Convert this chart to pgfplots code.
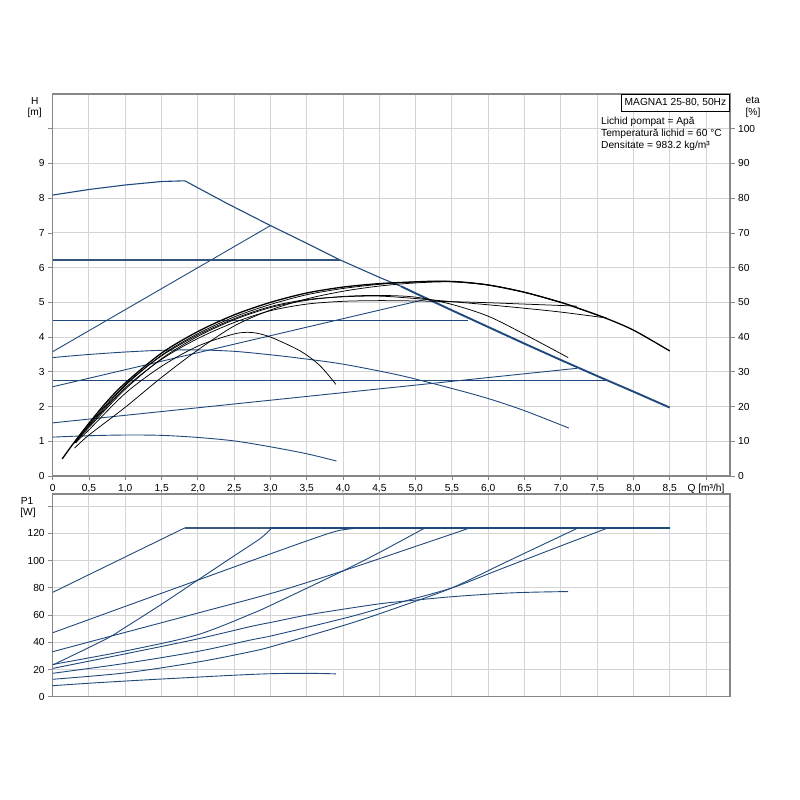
\documentclass[border=0pt]{standalone}
\usepackage{fontspec}
\setmainfont{Liberation Sans}
\usepackage{pgfplots}
\pgfplotsset{compat=1.18}
\definecolor{cblue}{RGB}{31,73,125}
\definecolor{cgrid}{RGB}{212,212,212}
\definecolor{caxis}{RGB}{135,135,135}
\newcommand{\fs}{\fontsize{10.2pt}{12pt}\selectfont}
\pgfplotsset{
  base/.style={
    scale only axis, width=677.3pt, xmin=0, xmax=9.33, anchor=south west,
    axis line style={draw=caxis, line width=1.2pt},
    tick style={draw=caxis, line width=0.8pt},
    major tick length=4.5pt, tick align=outside,
    major grid style={draw=cgrid, line width=1pt},
    xtick={0,0.5,1,1.5,2,2.5,3,3.5,4,4.5,5,5.5,6,6.5,7,7.5,8,8.5,9},
    ticklabel style={font=\fs},
    /pgf/number format/assume math mode=true,
  },
  bl/.style={cblue, line width=0.9pt},
  bk/.style={black, line width=0.75pt},
}
\begin{document}
\fs
\begin{tikzpicture}
\path[use as bounding box, fill=white] (0pt,0pt) rectangle (800pt,800pt);

% ---------- top: H ----------
\begin{axis}[base, at={(52.7pt,324pt)}, height=382pt,
  ymin=0, ymax=11, ytick={0,1,2,3,4,5,6,7,8,9,10},
  yticklabels={0,1,2,3,4,5,6,7,8,9,{}},
  xticklabels={0,{0,5},{1,0},{1,5},{2,0},{2,5},{3,0},{3,5},{4,0},{4,5},{5,0},{5,5},{6,0},{6,5},{7,0},{7,5},{8,0},{8,5},{Q [m³/h]}},
  xtick pos=left, ytick pos=left, grid=major]
% max curve
\addplot[bl, line width=1.1pt] coordinates {(0,8.09) (0.5,8.25) (1.0,8.38) (1.5,8.48) (1.82,8.5) (2.4,7.85) (3.0,7.21) (3.5,6.7) (3.96,6.22) (4.5,5.72) (4.8,5.46)};
\addplot[bl, line width=1.9pt] coordinates {(4.8,5.46) (5.0,5.26) (5.5,4.77) (6.0,4.29) (6.5,3.81) (7.0,3.34) (7.5,2.88) (8.0,2.43) (8.5,1.97)};
% proportional / constant pressure
\addplot[bl] coordinates {(0,3.58) (3.0,7.21)};
\addplot[cblue!80!gray, line width=1.3pt] coordinates {(0,6.22) (3.96,6.22)};
\addplot[bl] coordinates {(0,2.57) (5.06,5.05) (5.15,5.08)};
\addplot[bl] coordinates {(0,4.49) (5.72,4.49)};
\addplot[bl] coordinates {(0,2.75) (7.63,2.75)};
\addplot[bl] coordinates {(0,1.53) (7.22,3.10)};
% constant curves
\addplot[bl, smooth] coordinates {(0,3.41) (0.5,3.5) (1.0,3.57) (1.5,3.62) (2.0,3.63) (2.5,3.59) (3.0,3.49) (3.41,3.39) (4.0,3.22) (4.78,2.9) (5.5,2.52) (6.0,2.23) (6.5,1.88) (7.11,1.38)};
\addplot[bl, smooth] coordinates {(0,1.12) (0.5,1.16) (1.0,1.18) (1.5,1.17) (2.0,1.11) (2.5,1.01) (3.0,0.84) (3.5,0.64) (3.91,0.43)};
\end{axis}

% ---------- top: eta ----------
\begin{axis}[base, at={(52.7pt,324pt)}, height=382pt,
  ymin=0, ymax=110, ytick={0,10,20,30,40,50,60,70,80,90,100},
  hide x axis, axis y line*=right, ytick pos=right,
  yticklabel style={anchor=west}]
\addplot[bk, smooth] coordinates {(0.30,8.0) (0.5,11.8) (1.0,19.8) (1.5,28.4) (2.0,36.3) (2.5,43.2) (3.0,47.8) (3.5,51.0) (4.0,53.2) (4.5,54.7) (5.0,55.6) (5.5,55.9) (6.0,55.0) (6.5,52.9) (7.0,50.0) (7.2,48.6) (7.6,45.6)};
\addplot[bk, smooth] coordinates {(0.30,9.4) (0.5,13.3) (1.0,23.8) (1.5,31.6) (2.0,37.4) (2.5,40.9) (2.75,41.3) (3.0,40.0) (3.41,36.0) (3.68,31.8) (3.9,26.4)};
\addplot[bk, smooth] coordinates {(0.30,9.6) (0.5,14.0) (1.0,25.0) (1.5,33.8) (2.0,40.2) (2.5,45.0) (3.0,48.5) (3.5,50.6) (4.0,51.7) (4.5,52.0) (5.0,51.5) (5.5,49.4) (6.0,46.0) (6.5,40.8) (7.1,34.1)};
\addplot[bk, smooth] coordinates {(0.32,10.0) (0.5,14.4) (1.0,25.4) (1.5,33.6) (2.0,39.6) (2.5,44.2) (3.0,47.6) (3.5,49.5) (4.0,50.3) (4.5,50.5) (5.0,50.4) (5.5,50.2) (6.0,49.9) (6.5,49.5) (7.0,49.1) (7.22,48.9)};
\addplot[bk, smooth] coordinates {(0.32,10.2) (0.5,15.0) (1.0,26.3) (1.5,34.6) (2.0,40.6) (2.5,45.3) (3.0,48.8) (3.5,50.8) (4.0,51.6) (4.5,51.8) (5.0,51.1) (5.5,50.2) (6.0,49.3) (6.5,48.3) (7.0,47.2) (7.63,45.5)};
\addplot[bk, smooth] coordinates {(0.32,9.5) (0.5,14.6) (1.0,26.0) (1.5,34.8) (2.0,41.0) (2.5,45.8) (3.0,49.4) (3.5,52.2) (4.0,54.0) (4.5,55.2) (5.0,55.9) (5.5,56.0) (6.0,55.0) (6.5,52.9) (7.0,50.0)};
\addplot[bk, line width=1.3pt, smooth] coordinates {(0.13,4.9) (0.3,9.8) (0.5,15.2) (0.75,21.5) (1.0,26.8) (1.5,35.4) (2.0,41.6) (2.5,46.4) (3.0,50.0) (3.5,52.7) (4.0,54.4) (4.5,55.4) (5.0,55.9) (5.3,56.1) (5.6,55.9) (6.0,55.0) (6.5,52.9) (7.0,50.0) (7.2,48.6) (7.6,45.6) (8.0,42.0) (8.5,36.0)};
\end{axis}

% ---------- bottom: P1 ----------
\begin{axis}[base, at={(52.7pt,103.3pt)}, height=202.7pt,
  ymin=0, ymax=149, ytick={0,20,40,60,80,100,120,140},
  yticklabels={0,20,40,60,80,100,120,{}},
  xticklabels={}, xtick style={draw=none},
  ytick pos=left, grid=major]
\addplot[cblue!70!gray, line width=1.6pt] coordinates {(1.82,124.1) (3.0,124.1)};
\addplot[cblue, line width=2pt] coordinates {(3.0,124.1) (8.5,124.1)};
\addplot[bl] coordinates {(0,76.7) (1.82,124.1)};
\addplot[bl, smooth] coordinates {(0,47.0) (1.0,66.4) (2.0,85.7) (2.76,100.4) (3.5,114.5) (3.93,122) (4.25,124.1)};
\addplot[bl, smooth] coordinates {(0,23.3) (0.72,42.0) (1.0,51.0) (1.5,68.0) (2.09,89.0) (2.47,102.5) (2.86,116.3) (3.02,124.1)};
\addplot[bl, smooth] coordinates {(0,33.1) (1.0,47.3) (2.0,61.5) (3.06,76.7) (4.0,92.5) (5.0,110.5) (5.75,124.1)};
\addplot[bl, smooth] coordinates {(0,23.7) (1.0,33.6) (1.98,45.3) (2.72,60.5) (3.06,68.6) (4.0,92.5) (4.5,106) (5.13,124.1)};
\addplot[bl, smooth] coordinates {(0,20.8) (1.0,31.5) (2.0,42.5) (2.72,51.5) (3.06,55.2) (3.5,60) (4.0,64.3) (4.55,68.6) (5.0,71) (5.5,73.5) (6.16,75.9) (6.6,76.8) (7.1,77.3)};
\addplot[bl, smooth] coordinates {(0,17.2) (1.0,24.5) (2.0,33.3) (2.72,41.6) (3.06,45.3) (4.1,58.8) (4.8,69.5) (5.5,80.0) (6.16,93.6) (6.9,108.8) (7.65,124.1)};
\addplot[bl, smooth] coordinates {(0,12.8) (1.0,17.5) (2.0,25.5) (2.72,33.0) (3.06,37.5) (4.1,53.9) (4.8,66.5) (5.5,80.0) (6.16,96.8) (6.7,110.5) (7.24,124.1)};
\addplot[bl, smooth] coordinates {(0,8.1) (0.5,9.9) (1.0,11.5) (1.5,13.0) (2.0,14.4) (2.5,15.8) (3.0,16.9) (3.5,17.2) (3.9,16.8)};
\end{axis}

% ---------- labels ----------
\node[inner sep=0pt] at (34.7pt,699.3pt) {H};
\node[inner sep=0pt] at (34.7pt,686.7pt) {[m]};
\node[inner sep=0pt] at (752.7pt,699.3pt) {eta};
\node[inner sep=0pt] at (753pt,686.7pt) {[\%]};
\node[inner sep=0pt] at (27pt,299.3pt) {P1};
\node[inner sep=0pt] at (28pt,286.7pt) {[W]};
\node[draw=black, line width=0.6pt, fill=white, anchor=north east, inner xsep=3pt, inner ysep=3.6pt, text height=7.4pt, text depth=2pt] at (729.5pt,706pt) {MAGNA1 25-80, 50Hz};
\node[inner sep=0pt, anchor=base west] at (601pt,675.7pt) {Lichid pompat = Apă};
\node[inner sep=0pt, anchor=base west] at (601pt,663.7pt) {Temperatură lichid = 60 °C};
\node[inner sep=0pt, anchor=base west] at (601pt,651.7pt) {Densitate = 983.2 kg/m³};
\end{tikzpicture}
\end{document}
